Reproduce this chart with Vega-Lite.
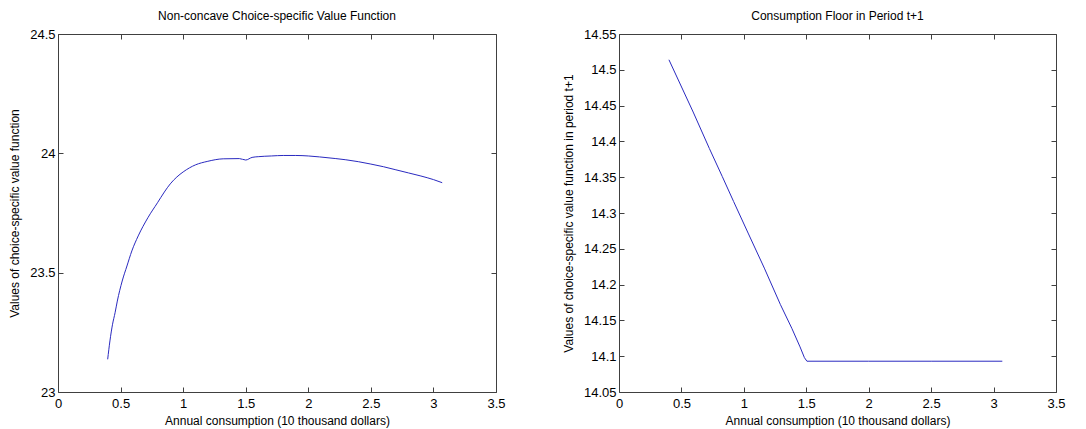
{
  "$schema": "https://vega.github.io/schema/vega-lite/v6.json",
  "background": "white",
  "padding": {"left": 8, "top": 10, "right": 5, "bottom": 5},
  "bounds": "flush",
  "spacing": 123,
  "config": {
    "font": "Liberation Sans",
    "view": {"stroke": null},
    "axis": {
      "grid": false,
      "domainColor": "#404040",
      "tickColor": "#404040",
      "domainWidth": 1,
      "tickWidth": 1,
      "tickSize": -5,
      "labelPadding": 8,
      "labelFlush": false,
      "labelOverlap": false,
      "labelFont": "Liberation Sans",
      "labelFontSize": 13,
      "labelColor": "#000000",
      "titleFont": "Liberation Sans",
      "titleFontSize": 12,
      "titleFontWeight": "normal",
      "titleColor": "#000000",
      "format": "~g"
    },
    "axisLeft": {"titlePadding": 8},
    "axisBottom": {"labelPadding": 10, "titlePadding": 5},
    "title": {"font": "Liberation Sans", "fontSize": 12, "fontWeight": "normal", "color": "#000000", "offset": 5}
  },
  "datasets": {
    "left": [
      {"c": 0.397, "v": 23.137},
      {"c": 0.415, "v": 23.214},
      {"c": 0.436, "v": 23.284},
      {"c": 0.456, "v": 23.332},
      {"c": 0.474, "v": 23.381},
      {"c": 0.513, "v": 23.465},
      {"c": 0.551, "v": 23.528},
      {"c": 0.59, "v": 23.591},
      {"c": 0.641, "v": 23.654},
      {"c": 0.718, "v": 23.73},
      {"c": 0.795, "v": 23.793},
      {"c": 0.85, "v": 23.838},
      {"c": 0.897, "v": 23.872},
      {"c": 0.95, "v": 23.901},
      {"c": 1.0, "v": 23.922},
      {"c": 1.1, "v": 23.952},
      {"c": 1.192, "v": 23.966},
      {"c": 1.32, "v": 23.977},
      {"c": 1.449, "v": 23.978},
      {"c": 1.5, "v": 23.972},
      {"c": 1.551, "v": 23.983},
      {"c": 1.6, "v": 23.986},
      {"c": 1.705, "v": 23.989},
      {"c": 1.8, "v": 23.991},
      {"c": 1.9, "v": 23.991},
      {"c": 2.0, "v": 23.989},
      {"c": 2.09, "v": 23.985},
      {"c": 2.22, "v": 23.978},
      {"c": 2.3, "v": 23.973},
      {"c": 2.4, "v": 23.965},
      {"c": 2.5, "v": 23.955},
      {"c": 2.6, "v": 23.944},
      {"c": 2.7, "v": 23.931},
      {"c": 2.8, "v": 23.918},
      {"c": 2.9, "v": 23.905},
      {"c": 3.0, "v": 23.89},
      {"c": 3.07, "v": 23.877}
    ],
    "right": [
      {"c": 0.4, "v": 14.514},
      {"c": 0.594, "v": 14.441},
      {"c": 0.724, "v": 14.39},
      {"c": 0.827, "v": 14.351},
      {"c": 0.918, "v": 14.316},
      {"c": 1.034, "v": 14.272},
      {"c": 1.164, "v": 14.223},
      {"c": 1.293, "v": 14.172},
      {"c": 1.384, "v": 14.139},
      {"c": 1.45, "v": 14.113},
      {"c": 1.485, "v": 14.098},
      {"c": 1.505, "v": 14.093},
      {"c": 2.0, "v": 14.093},
      {"c": 2.5, "v": 14.093},
      {"c": 3.07, "v": 14.093}
    ]
  },
  "hconcat": [
    {
      "width": 438,
      "height": 358,
      "title": {"text": "Non-concave Choice-specific Value Function"},
      "data": {"name": "left"},
      "layer": [
        {
          "mark": {"type": "line", "color": "#2a2ac0", "strokeWidth": 1, "interpolate": "monotone"},
          "encoding": {
            "x": {"field": "c", "type": "quantitative", "scale": {"domain": [0, 3.5], "nice": false, "zero": false},
                  "axis": {"orient": "bottom", "values": [0, 0.5, 1, 1.5, 2, 2.5, 3, 3.5], "title": "Annual consumption (10 thousand dollars)"}},
            "y": {"field": "v", "type": "quantitative", "scale": {"domain": [23, 24.5], "nice": false, "zero": false},
                  "axis": {"orient": "left", "values": [23, 23.5, 24, 24.5], "title": "Values of choice-specific value function"}}
          }
        },
        {
          "mark": {"type": "line", "strokeOpacity": 0},
          "encoding": {
            "x": {"field": "c", "type": "quantitative", "axis": {"orient": "top", "values": [0, 0.5, 1, 1.5, 2, 2.5, 3, 3.5], "labels": false, "title": null}},
            "y": {"field": "v", "type": "quantitative", "axis": {"orient": "right", "values": [23, 23.5, 24, 24.5], "labels": false, "title": null}}
          }
        }
      ],
      "resolve": {"axis": {"x": "independent", "y": "independent"}}
    },
    {
      "width": 437,
      "height": 358,
      "title": {"text": "Consumption Floor in Period t+1"},
      "data": {"name": "right"},
      "layer": [
        {
          "mark": {"type": "line", "color": "#2a2ac0", "strokeWidth": 1},
          "encoding": {
            "x": {"field": "c", "type": "quantitative", "scale": {"domain": [0, 3.5], "nice": false, "zero": false},
                  "axis": {"orient": "bottom", "values": [0, 0.5, 1, 1.5, 2, 2.5, 3, 3.5], "title": "Annual consumption (10 thousand dollars)"}},
            "y": {"field": "v", "type": "quantitative", "scale": {"domain": [14.05, 14.55], "nice": false, "zero": false},
                  "axis": {"orient": "left", "values": [14.05, 14.1, 14.15, 14.2, 14.25, 14.3, 14.35, 14.4, 14.45, 14.5, 14.55], "title": "Values of choice-specific value function in period t+1"}}
          }
        },
        {
          "mark": {"type": "line", "strokeOpacity": 0},
          "encoding": {
            "x": {"field": "c", "type": "quantitative", "axis": {"orient": "top", "values": [0, 0.5, 1, 1.5, 2, 2.5, 3, 3.5], "labels": false, "title": null}},
            "y": {"field": "v", "type": "quantitative", "axis": {"orient": "right", "values": [14.05, 14.1, 14.15, 14.2, 14.25, 14.3, 14.35, 14.4, 14.45, 14.5, 14.55], "labels": false, "title": null}}
          }
        }
      ],
      "resolve": {"axis": {"x": "independent", "y": "independent"}}
    }
  ]
}
